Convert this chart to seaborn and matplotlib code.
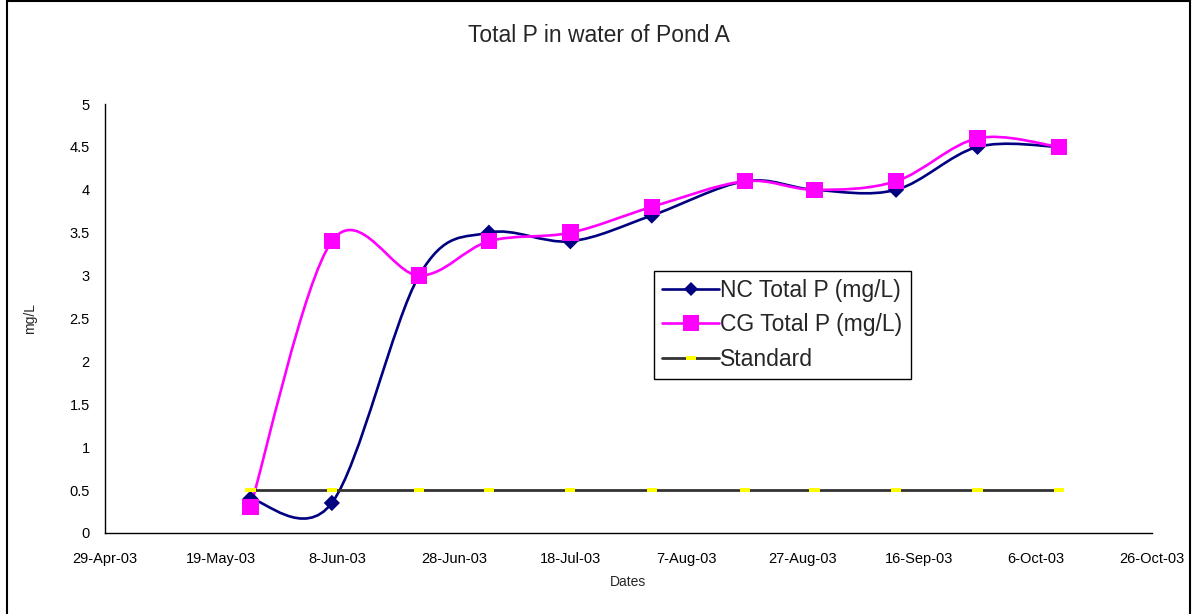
import matplotlib
matplotlib.use("Agg")
import matplotlib.pyplot as plt
import matplotlib.dates as mdates
from matplotlib.path import Path
from matplotlib.patches import PathPatch, Rectangle
from matplotlib.lines import Line2D
import numpy as np
import pandas as pd
import seaborn as sns

# Sampling dates and measured total phosphorus (mg/L)
dates = ["2003-05-24", "2003-06-07", "2003-06-22", "2003-07-04", "2003-07-18",
         "2003-08-01", "2003-08-17", "2003-08-29", "2003-09-12", "2003-09-26",
         "2003-10-10"]
nc_total_p = [0.4, 0.35, 3.0, 3.5, 3.4, 3.7, 4.1, 4.0, 4.0, 4.5, 4.5]
cg_total_p = [0.3, 3.4, 3.0, 3.4, 3.5, 3.8, 4.1, 4.0, 4.1, 4.6, 4.5]
standard = [0.5] * 11

series_names = ["NC Total P (mg/L)", "CG Total P (mg/L)", "Standard"]
tick_start, tick_end = "2003-04-29", "2003-10-26"
y_ticks = [0, 0.5, 1, 1.5, 2, 2.5, 3, 3.5, 4, 4.5, 5]

df = pd.DataFrame({
    "date": pd.to_datetime(dates),
    "nc": nc_total_p,
    "cg": cg_total_p,
    "std": standard,
})

sns.set_style("white")
plt.rcParams["font.family"] = ["Liberation Sans", "DejaVu Sans"]

fig = plt.figure(figsize=(11.93, 6.14), dpi=100)
W, H = 1193, 614
ax = fig.add_axes([105 / W, 1 - 533 / H, (1152 - 105) / W, (533 - 104) / H])

NAVY = "#000080"
MAGENTA = "#FF00FF"
GREY = "#333333"
YELLOW = "#FFFF00"


def smooth_path(xs, ys):
    """Cubic Bezier spline through the points (Catmull-Rom style tangents)."""
    p = np.column_stack([xs, ys]).astype(float)
    n = len(p)
    verts = [p[0]]
    codes = [Path.MOVETO]
    for i in range(n - 1):
        prev_pt = p[i - 1] if i > 0 else p[i]
        next_pt = p[i + 2] if i + 2 < n else p[i + 1]
        c1 = p[i] + (p[i + 1] - prev_pt) / 6.0
        c2 = p[i + 1] - (next_pt - p[i]) / 6.0
        verts += [c1, c2, p[i + 1]]
        codes += [Path.CURVE4] * 3
    return Path(verts, codes)


xnum = mdates.date2num(df["date"])

# Smoothed series lines
for col, color, z in [("nc", NAVY, 2.0), ("cg", MAGENTA, 2.1)]:
    ax.add_patch(PathPatch(smooth_path(xnum, df[col].values), facecolor="none",
                           edgecolor=color, lw=1.9, zorder=z, capstyle="round"))

# Standard reference line
sns.lineplot(data=df, x="date", y="std", ax=ax, color=GREY, lw=2.0, zorder=2.2,
             legend=False)

# Markers
sns.scatterplot(data=df, x="date", y="nc", ax=ax, marker="D", s=68, color=NAVY,
                edgecolor="none", linewidth=0, zorder=3.0, legend=False)
sns.scatterplot(data=df, x="date", y="cg", ax=ax, marker="s", s=140, color=MAGENTA,
                edgecolor="none", linewidth=0, zorder=3.1, legend=False)
dash = Path([(-1, -0.45), (1, -0.45), (1, 0.45), (-1, 0.45), (-1, -0.45)],
            [Path.MOVETO, Path.LINETO, Path.LINETO, Path.LINETO, Path.CLOSEPOLY])
sns.scatterplot(data=df, x="date", y="std", ax=ax, marker=dash, s=55, color=YELLOW,
                edgecolor="none", linewidth=0, zorder=3.2, legend=False)

# Axes
tick_dates = pd.date_range(tick_start, tick_end, freq="20D")
ax.set_xlim(mdates.date2num(pd.Timestamp(tick_start)), mdates.date2num(pd.Timestamp(tick_end)))
ax.set_ylim(0, 5)
ax.set_xticks(mdates.date2num(tick_dates))
ax.set_xticklabels([f"{d.day}-{d:%b-%y}" for d in tick_dates])
ax.set_yticks(y_ticks)
ax.set_yticklabels([f"{v:g}" for v in y_ticks])
ax.tick_params(axis="both", labelsize=10.5, colors="black", direction="out",
               length=5, width=1, pad=6)
ax.tick_params(axis="x", pad=9)
for side in ["top", "right"]:
    ax.spines[side].set_visible(False)
for side in ["left", "bottom"]:
    ax.spines[side].set_color("black")
    ax.spines[side].set_linewidth(1)
ax.grid(False)
ax.set_xlabel("")
ax.set_ylabel("")

fig.text(599 / W, 1 - 36 / H, "Total P in water of Pond A", ha="center", va="center",
         fontsize=16.5)
fig.text(628 / W, 1 - 582 / H, "Dates", ha="center", va="center", fontsize=10)
fig.text(30 / W, 1 - 318 / H, "mg/L", ha="center", va="center", fontsize=10,
         rotation=90)

# Legend
handles = [
    Line2D([], [], color=NAVY, lw=1.9, marker="D", markersize=7, markeredgewidth=0),
    Line2D([], [], color=MAGENTA, lw=1.9, marker="s", markersize=11, markeredgewidth=0),
    Line2D([], [], color=GREY, lw=2.0, marker=dash, markersize=7.5, markerfacecolor=YELLOW,
           markeredgewidth=0),
]
leg = fig.legend(handles, series_names, loc="upper left",
                 bbox_to_anchor=(654 / W, 1 - 271 / H), fontsize=16.5, frameon=True,
                 fancybox=False, edgecolor="black", framealpha=1, borderpad=0.35,
                 labelspacing=0.5, handlelength=2.5, handletextpad=0.05,
                 borderaxespad=0)
leg.get_frame().set_linewidth(1)

# Chart border
fig.patches.append(Rectangle((7 / W, -0.01), (1190 - 7) / W, 1 - 1 / H + 0.01,
                             transform=fig.transFigure, fill=False,
                             edgecolor="black", lw=1.5))

fig.savefig("out.png", dpi=100)
